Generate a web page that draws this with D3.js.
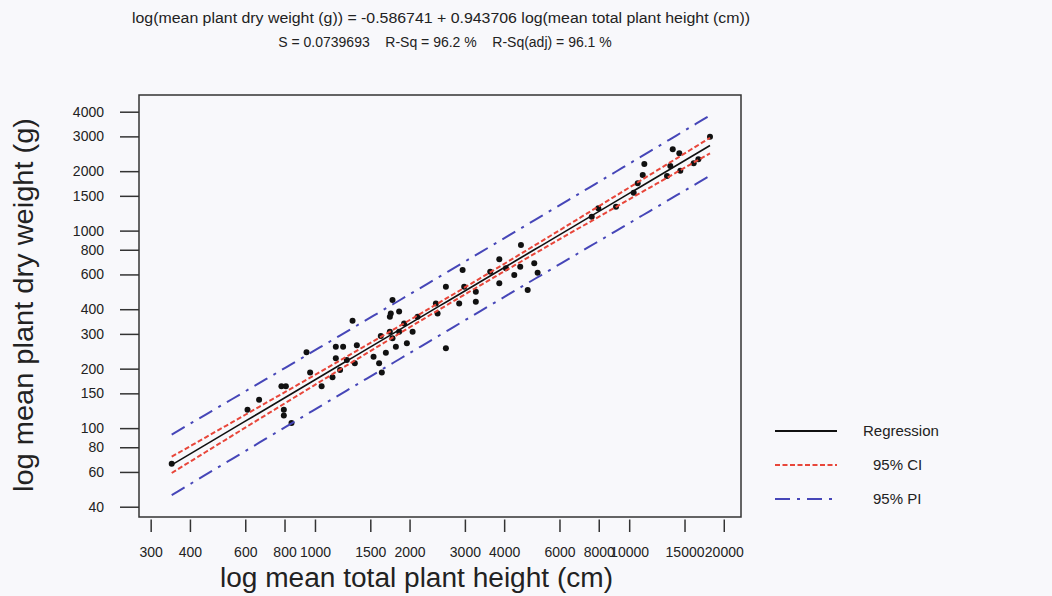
<!DOCTYPE html>
<html>
<head>
<meta charset="utf-8">
<script src="https://cdn.jsdelivr.net/npm/d3@7"></script>
<style>
  body { margin: 0; background: #f8f8fb; }
  text { font-family: "Liberation Sans", Arial, sans-serif; fill: #222; }
</style>
</head>
<body>
<div id="chart"></div>
<script>
// mean total plant height (cm), one entry per plot
const heightCm = [
  350, 610, 664, 782, 808, 796, 796, 842, 940, 965,
  1050, 1137, 1165, 1229, 1165, 1202, 1263, 1317, 1359, 1339,
  1536, 1600, 1632, 1620, 1681, 1731, 1731, 1765, 1743, 1853,
  1853, 1809, 1765, 1922, 1961, 2045, 2121, 2425, 2456, 2610,
  2610, 2877, 2950, 2985, 3250, 3250, 3612, 3860, 3860, 4052,
  4308, 4524, 4500, 4753, 4987, 5112, 7600, 7975, 9080, 10335,
  10643, 11043, 11173, 13194, 13517, 13758, 14438, 14545, 16043, 16602,
  18078
];
// mean plant dry weight (g)
const dryWeightG = [
  66, 124, 139, 163, 163, 124, 116, 106, 242, 191,
  163, 181, 258, 258, 226, 197, 221, 350, 263, 213,
  230, 213, 191, 293, 241, 308, 366, 445, 381, 389,
  308, 258, 285, 339, 269, 308, 366, 428, 381, 520,
  254, 428, 632, 520, 490, 436, 619, 716, 541, 644,
  596, 846, 656, 500, 683, 612, 1176, 1297, 1321, 1555,
  1736, 1912, 2174, 1890, 2124, 2580, 2464, 2011, 2191, 2296,
  2989
];

const xTicks = [300, 400, 600, 800, 1000, 1500, 2000, 3000, 4000, 6000, 8000, 10000, 15000, 20000];
const yTicks = [40, 60, 80, 100, 150, 200, 300, 400, 600, 800, 1000, 1500, 2000, 3000, 4000];

const titleLines = [
  'log(mean plant dry weight (g)) = -0.586741 + 0.943706 log(mean total plant height (cm))',
  'S = 0.0739693    R-Sq = 96.2 %    R-Sq(adj) = 96.1 %'
];
const xTitle = 'log mean total plant height (cm)';
const yTitle = 'log mean plant dry weight (g)';
const legendLabels = ['Regression', '95% CI', '95% PI'];

// fit from the title (log10 space)
const fitCoef = [-0.586741, 0.943706];
const fitS = 0.0739693;
const tCrit = 1.995;

const W = 1052, H = 596;
const box = {left: 139, right: 741, top: 95, bottom: 517};

const svg = d3.select('#chart').append('svg')
  .attr('width', W)
  .attr('height', H);

svg.append('rect')
  .attr('width', W).attr('height', H)
  .attr('fill', '#f8f8fb');

const x = d3.scaleLog()
  .domain([275.4, 22690])
  .range([box.left, box.right]);

const y = d3.scaleLog()
  .domain([35.48, 4860])
  .range([box.bottom, box.top]);

// titles
svg.append('text')
  .attr('x', 441).attr('y', 23)
  .attr('text-anchor', 'middle')
  .attr('font-size', 14)
  .attr('textLength', 618)
  .attr('lengthAdjust', 'spacingAndGlyphs')
  .text(titleLines[0]);

svg.append('text')
  .attr('x', 445).attr('y', 47)
  .attr('text-anchor', 'middle')
  .attr('font-size', 14)
  .style('white-space', 'pre')
  .text(titleLines[1]);

// axes
const yAxis = svg.append('g')
  .attr('transform', 'translate(' + box.left + ',0)')
  .call(d3.axisLeft(y).tickValues(yTicks).tickFormat(d3.format('d'))
    .tickSize(19).tickPadding(16))
  .attr('font-size', 14)
  .attr('font-family', null);
yAxis.select('.domain').remove();

const xAxis = svg.append('g')
  .attr('transform', 'translate(0,519.5)')
  .call(d3.axisBottom(x).tickValues(xTicks).tickFormat(d3.format('d'))
    .tickSize(12.5).tickPadding(15))
  .attr('font-size', 14)
  .attr('font-family', null);
xAxis.select('.domain').remove();

svg.selectAll('.tick line')
  .attr('stroke', '#333')
  .attr('stroke-width', 1.5);
svg.selectAll('.tick text').attr('fill', '#222');

svg.append('text')
  .attr('x', 416.5).attr('y', 587)
  .attr('text-anchor', 'middle')
  .attr('font-size', 27)
  .attr('textLength', 393)
  .attr('lengthAdjust', 'spacingAndGlyphs')
  .text(xTitle);

svg.append('text')
  .attr('transform', 'translate(33,305) rotate(-90)')
  .attr('text-anchor', 'middle')
  .attr('font-size', 27)
  .attr('textLength', 374)
  .attr('lengthAdjust', 'spacingAndGlyphs')
  .text(yTitle);

// regression bands
const lx = heightCm.map(Math.log10);
const n = lx.length;
const xbar = d3.mean(lx);
const sxx = d3.sum(lx, v => (v - xbar) * (v - xbar));
const lxExt = d3.extent(lx);

const grid = d3.range(0, 81).map(function(i) {
  const v = lxExt[0] + i * (lxExt[1] - lxExt[0]) / 80;
  const fit = fitCoef[0] + fitCoef[1] * v;
  const lev = 1 / n + (v - xbar) * (v - xbar) / sxx;
  return {
    lx: v,
    fit: fit,
    ci: tCrit * fitS * Math.sqrt(lev),
    pi: tCrit * fitS * Math.sqrt(1 + lev)
  };
});

function band(key, sign) {
  return d3.line()
    .x(d => x(Math.pow(10, d.lx)))
    .y(d => y(Math.pow(10, d.fit + sign * (key ? d[key] : 0))));
}

const plot = svg.append('g');

// points
plot.selectAll('circle')
  .data(heightCm)
  .join('circle')
  .attr('cx', d => x(d))
  .attr('cy', (d, i) => y(dryWeightG[i]))
  .attr('r', 3)
  .attr('fill', '#111');

const piStyle = {stroke: '#4646b8', dash: '15,7,3,7', w: 2};
const ciStyle = {stroke: '#e8463a', dash: '5,2.5', w: 2};

[1, -1].forEach(function(s) {
  plot.append('path')
    .attr('d', band('pi', s)(grid))
    .attr('fill', 'none')
    .attr('stroke', piStyle.stroke)
    .attr('stroke-width', piStyle.w)
    .attr('stroke-dasharray', piStyle.dash);
});
[1, -1].forEach(function(s) {
  plot.append('path')
    .attr('d', band('ci', s)(grid))
    .attr('fill', 'none')
    .attr('stroke', ciStyle.stroke)
    .attr('stroke-width', ciStyle.w)
    .attr('stroke-dasharray', ciStyle.dash);
});
plot.append('path')
  .attr('d', band(null, 1)(grid))
  .attr('fill', 'none')
  .attr('stroke', '#111')
  .attr('stroke-width', 1.6);

// frame
svg.append('rect')
  .attr('x', box.left).attr('y', box.top)
  .attr('width', box.right - box.left)
  .attr('height', box.bottom - box.top)
  .attr('fill', 'none')
  .attr('stroke', '#333')
  .attr('stroke-width', 1.5);

// legend
const legendRows = [
  {y: 431, tx: 863, stroke: '#111', dash: null, w: 2},
  {y: 465, tx: 873, stroke: ciStyle.stroke, dash: ciStyle.dash, w: 2},
  {y: 499, tx: 873, stroke: piStyle.stroke, dash: piStyle.dash, w: 2}
];
legendRows.forEach(function(r, i) {
  svg.append('line')
    .attr('x1', 775).attr('x2', 837)
    .attr('y1', r.y).attr('y2', r.y)
    .attr('stroke', r.stroke)
    .attr('stroke-width', r.w)
    .attr('stroke-dasharray', r.dash);
  svg.append('text')
    .attr('x', r.tx).attr('y', r.y + 5)
    .attr('font-size', 15)
    .text(legendLabels[i]);
});
</script>
</body>
</html>
